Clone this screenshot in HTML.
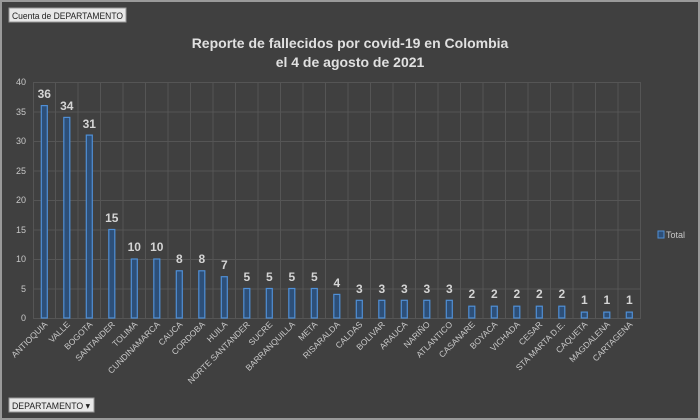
<!DOCTYPE html><html><head><style>body{margin:0;background:#404040}svg{display:block;font-family:"Liberation Sans",sans-serif}</style></head><body>
<svg width="700" height="420" xmlns="http://www.w3.org/2000/svg">
<rect x="0" y="0" width="700" height="420" fill="#9a9a9a"/>
<rect x="2" y="2" width="696" height="416" fill="#404040"/>
<rect x="9" y="8" width="117" height="14" fill="#e8e8e8" stroke="#999"/>
<text x="12" y="19" font-size="9.5" fill="#222" textLength="111" lengthAdjust="spacingAndGlyphs">Cuenta de DEPARTAMENTO</text>
<rect x="9" y="398" width="85" height="14" fill="#e8e8e8" stroke="#999"/>
<text x="12" y="409" font-size="9.5" fill="#222" textLength="78" lengthAdjust="spacingAndGlyphs">DEPARTAMENTO ▾</text>
<text x="350" y="48" font-size="14" font-weight="bold" fill="#e0e0e0" text-anchor="middle">Reporte de fallecidos por covid-19 en Colombia</text>
<text x="350" y="67" font-size="14" font-weight="bold" fill="#e0e0e0" text-anchor="middle">el 4 de agosto de 2021</text>
<g stroke="#555" stroke-width="1">
<line x1="33" y1="82.5" x2="641" y2="82.5"/><line x1="33" y1="112" x2="641" y2="112"/><line x1="33" y1="141.5" x2="641" y2="141.5"/><line x1="33" y1="171" x2="641" y2="171"/><line x1="33" y1="200.5" x2="641" y2="200.5"/><line x1="33" y1="230" x2="641" y2="230"/><line x1="33" y1="259.5" x2="641" y2="259.5"/><line x1="33" y1="289" x2="641" y2="289"/><line x1="33" y1="318.5" x2="641" y2="318.5"/>
<path d="M33.5 82V318M55.5 82V318M78 82V318M100.5 82V318M123 82V318M145.5 82V318M168 82V318M190.5 82V318M213 82V318M235.5 82V318M258 82V318M280.5 82V318M303 82V318M325.5 82V318M348 82V318M370.5 82V318M393 82V318M415.5 82V318M438 82V318M460.5 82V318M483 82V318M505.5 82V318M528 82V318M550.5 82V318M573 82V318M595.5 82V318M618 82V318M640.5 82V318"/>
</g>
<g font-size="9" fill="#c8c8c8" text-anchor="end">
<text x="26" y="85">40</text><text x="26" y="115">35</text><text x="26" y="144">30</text><text x="26" y="174">25</text><text x="26" y="203">20</text><text x="26" y="233">15</text><text x="26" y="262">10</text><text x="26" y="292">5</text><text x="26" y="321">0</text>
</g>
<g fill="#2d4f78" stroke="#4f8fd6" stroke-width="1.2">
<rect x="41.3" y="105.6" width="6" height="212.4"/><rect x="63.8" y="117.4" width="6" height="200.6"/><rect x="86.3" y="135.1" width="6" height="182.9"/><rect x="108.8" y="229.5" width="6" height="88.5"/><rect x="131.3" y="259" width="6" height="59"/><rect x="153.8" y="259" width="6" height="59"/><rect x="176.3" y="270.8" width="6" height="47.2"/><rect x="198.8" y="270.8" width="6" height="47.2"/><rect x="221.3" y="276.7" width="6" height="41.3"/><rect x="243.8" y="288.5" width="6" height="29.5"/><rect x="266.3" y="288.5" width="6" height="29.5"/><rect x="288.8" y="288.5" width="6" height="29.5"/><rect x="311.3" y="288.5" width="6" height="29.5"/><rect x="333.8" y="294.4" width="6" height="23.6"/><rect x="356.3" y="300.3" width="6" height="17.7"/><rect x="378.8" y="300.3" width="6" height="17.7"/><rect x="401.3" y="300.3" width="6" height="17.7"/><rect x="423.8" y="300.3" width="6" height="17.7"/><rect x="446.3" y="300.3" width="6" height="17.7"/><rect x="468.8" y="306.2" width="6" height="11.8"/><rect x="491.3" y="306.2" width="6" height="11.8"/><rect x="513.8" y="306.2" width="6" height="11.8"/><rect x="536.3" y="306.2" width="6" height="11.8"/><rect x="558.8" y="306.2" width="6" height="11.8"/><rect x="581.3" y="312.1" width="6" height="5.9"/><rect x="603.8" y="312.1" width="6" height="5.9"/><rect x="626.3" y="312.1" width="6" height="5.9"/>
</g>
<g font-size="12" font-weight="bold" fill="#d4d4d4" text-anchor="middle">
<text x="44.3" y="98">36</text><text x="66.8" y="110">34</text><text x="89.3" y="128">31</text><text x="111.8" y="222">15</text><text x="134.3" y="251">10</text><text x="156.8" y="251">10</text><text x="179.3" y="263">8</text><text x="201.8" y="263">8</text><text x="224.3" y="269">7</text><text x="246.8" y="281">5</text><text x="269.3" y="281">5</text><text x="291.8" y="281">5</text><text x="314.3" y="281">5</text><text x="336.8" y="287">4</text><text x="359.3" y="293">3</text><text x="381.8" y="293">3</text><text x="404.3" y="293">3</text><text x="426.8" y="293">3</text><text x="449.3" y="293">3</text><text x="471.8" y="298">2</text><text x="494.3" y="298">2</text><text x="516.8" y="298">2</text><text x="539.3" y="298">2</text><text x="561.8" y="298">2</text><text x="584.3" y="304">1</text><text x="606.8" y="304">1</text><text x="629.3" y="304">1</text>
</g>
<g font-size="8.5" fill="#c8c8c8" text-anchor="end">
<text transform="translate(48,325) rotate(-45)">ANTIOQUIA</text><text transform="translate(70.5,325) rotate(-45)">VALLE</text><text transform="translate(93,325) rotate(-45)">BOGOTA</text><text transform="translate(115.5,325) rotate(-45)">SANTANDER</text><text transform="translate(138,325) rotate(-45)">TOLIMA</text><text transform="translate(160.5,325) rotate(-45)">CUNDINAMARCA</text><text transform="translate(183,325) rotate(-45)">CAUCA</text><text transform="translate(205.5,325) rotate(-45)">CORDOBA</text><text transform="translate(228,325) rotate(-45)">HUILA</text><text transform="translate(250.5,325) rotate(-45)">NORTE SANTANDER</text><text transform="translate(273,325) rotate(-45)">SUCRE</text><text transform="translate(295.5,325) rotate(-45)">BARRANQUILLA</text><text transform="translate(318,325) rotate(-45)">META</text><text transform="translate(340.5,325) rotate(-45)">RISARALDA</text><text transform="translate(363,325) rotate(-45)">CALDAS</text><text transform="translate(385.5,325) rotate(-45)">BOLIVAR</text><text transform="translate(408,325) rotate(-45)">ARAUCA</text><text transform="translate(430.5,325) rotate(-45)">NARIÑO</text><text transform="translate(453,325) rotate(-45)">ATLANTICO</text><text transform="translate(475.5,325) rotate(-45)">CASANARE</text><text transform="translate(498,325) rotate(-45)">BOYACA</text><text transform="translate(520.5,325) rotate(-45)">VICHADA</text><text transform="translate(543,325) rotate(-45)">CESAR</text><text transform="translate(565.5,325) rotate(-45)">STA MARTA D.E.</text><text transform="translate(588,325) rotate(-45)">CAQUETA</text><text transform="translate(610.5,325) rotate(-45)">MAGDALENA</text><text transform="translate(633,325) rotate(-45)">CARTAGENA</text>
</g>
<rect x="658" y="231" width="6" height="7" fill="#2d4f78" stroke="#4f8fd6"/>
<text x="666" y="238" font-size="9" fill="#c8c8c8">Total</text>
</svg>
</body></html>
